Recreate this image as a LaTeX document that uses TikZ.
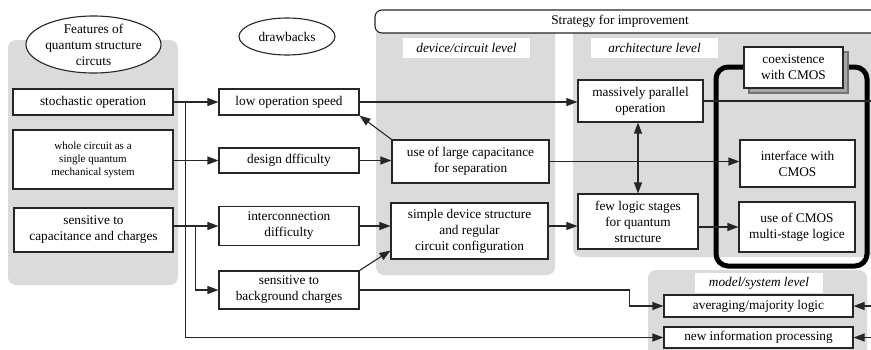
\documentclass[tikz,border=0pt]{standalone}
\usepackage{fontspec}
\setmainfont{Liberation Serif}
\usetikzlibrary{arrows.meta,shapes.geometric,shadows}

\begin{document}
\begin{tikzpicture}[x=1pt,y=-1pt,
  font=\rmfamily\fontsize{13.3}{16}\selectfont,
  panel/.style={fill=black!14,rounded corners=8pt},
  box/.style={draw=black!85,line width=1.1pt,fill=white,align=center,inner sep=2pt},
  tag/.style={fill=white,inner sep=0pt,font=\rmfamily\fontsize{13.3}{16}\selectfont\itshape},
  oval/.style={ellipse,draw=black!85,line width=1.1pt,fill=white,align=center,inner sep=0pt},
  arr/.style={-{Triangle[length=11pt,width=8pt]},line width=1.1pt,black!85},
  dbl/.style={{Triangle[length=11pt,width=8pt]}-{Triangle[length=11pt,width=8pt]},line width=1.1pt,black!85},
  line/.style={line width=1.1pt,black!85}]

  \useasboundingbox (0,0) rectangle (871,349);

  % Panels
  \fill[panel] (8,40) rectangle (178,285);
  \fill[panel] (376,25) rectangle (555,275);
  \fill[panel] (573,25) rectangle (890,257);
  \fill[panel] (648,270) rectangle (867,370);
  \draw[line,fill=white,rounded corners=7pt] (375,10) rectangle (900,33);
  \node (strat) at (620,21.5) {Strategy for improvement};

  % Titles
  \node[oval,minimum width=135,minimum height=57,
    label={[align=center,font=\rmfamily\fontsize{13.3}{16}\selectfont]center:Features of\\quantum structure\\circuts}] (feat) at (93.5,44.5) {};
  \node[oval,minimum width=96,minimum height=37] (drawb) at (287,36.5) {drawbacks};

  % Features
  \node[box,minimum width=160,minimum height=26] (stoch) at (93,102) {stochastic operation};
  \node[box,minimum width=160,minimum height=59,font=\rmfamily\fontsize{11}{13}\selectfont] (whole) at (93,159.5) {whole circuit as a\\single quantum\\mechanical system};
  \node[box,minimum width=159,minimum height=44] (sensc) at (93.5,230) {sensitive to\\capacitance and charges};

  % Drawbacks
  \node[box,minimum width=140,minimum height=26] (slow) at (289,102) {low operation speed};
  \node[box,minimum width=140,minimum height=25] (design) at (289,160.5) {design dfficulty};
  \node[box,minimum width=140,minimum height=39] (inter) at (289,226) {interconnection\\difficulty};
  \node[box,minimum width=140,minimum height=38] (bgc) at (289,290) {sensitive to\\background charges};

  % Device/circuit level
  \node[tag,minimum width=127,minimum height=20] (devlvl) at (466.5,48) {device/circuit level};
  \node[box,minimum width=157,minimum height=43] (cap) at (470.5,161.5) {use of large capacitance\\for separation};
  \node[box,minimum width=157,minimum height=56] (simple) at (469.5,231) {simple device structure\\and regular\\circuit configuration};

  % Architecture level
  \node[tag,minimum width=127,minimum height=20] (archlvl) at (654.5,48) {architecture level};
  \node[box,minimum width=125,minimum height=42] (par) at (640.5,101) {massively parallel\\operation};
  \node[box,minimum width=120,minimum height=55] (few) at (638,221.5) {few logic stages\\for quantum\\structure};

  % CMOS
  \draw[line width=5pt,rounded corners=12pt] (716,67) rectangle (867,266);
  \node[box,minimum width=99,minimum height=41,
    copy shadow={shadow xshift=5pt,shadow yshift=-5pt,fill=black!35,draw=black!55}] (coex) at (793.5,67.5) {coexistence\\with CMOS};
  \node[box,minimum width=115,minimum height=47] (iface) at (797.5,163.5) {interface with\\CMOS};
  \node[box,minimum width=116,minimum height=50] (cmos) at (797,227) {use of CMOS\\multi-stage logice};

  % Model/system level
  \node[tag,minimum width=128,minimum height=20] (modlvl) at (759,283) {model/system level};
  \node[box,minimum width=189,minimum height=22] (avg) at (758.5,306) {averaging/majority logic};
  \node[box,minimum width=189,minimum height=21] (newinfo) at (758.5,337.5) {new information processing};

  % Right edge
  \coordinate (rpar) at (871,101);
  \coordinate (ravg) at (871,306);
  \coordinate (rnew) at (871,337.5);

  % Arrows
  \draw[arr] (stoch.east) -- (slow.west);
  \draw[arr] (stoch.east) -- ++(12,0) |- (newinfo.west);
  \draw[arr] (whole.east |- design) -- (design.west);
  \draw[arr] (sensc.east |- inter) -- (inter.west);
  \draw[arr] (sensc.east |- inter) -- ++(22,0) |- (bgc.west);
  \draw[arr] (slow.east) -- (slow.east -| par.west);
  \draw[arr] (cap.north west) -- (slow.south east);
  \draw[arr] (design.east) -- (design.east -| cap.west);
  \draw[arr] (cap.east) -- (cap.east -| iface.west);
  \draw[arr] (inter.east) -- (inter.east -| simple.west);
  \draw[arr] (bgc.north east) -- ([yshift=9pt]simple.south west);
  \draw[arr] (inter -| simple.east) -- (inter -| few.west);
  \draw[dbl] (few.north) -- (few.north |- par.south);
  \draw[arr] (few.east |- cmos) -- (cmos.west);
  \draw[line] (par.east) -- (rpar);
  \draw[arr] (bgc.east) -| ([xshift=-34pt]avg.west) -- (avg.west);
  \draw[arr] (ravg) -- (avg.east);
  \draw[arr] (rnew) -- (newinfo.east);

\end{tikzpicture}
\end{document}
